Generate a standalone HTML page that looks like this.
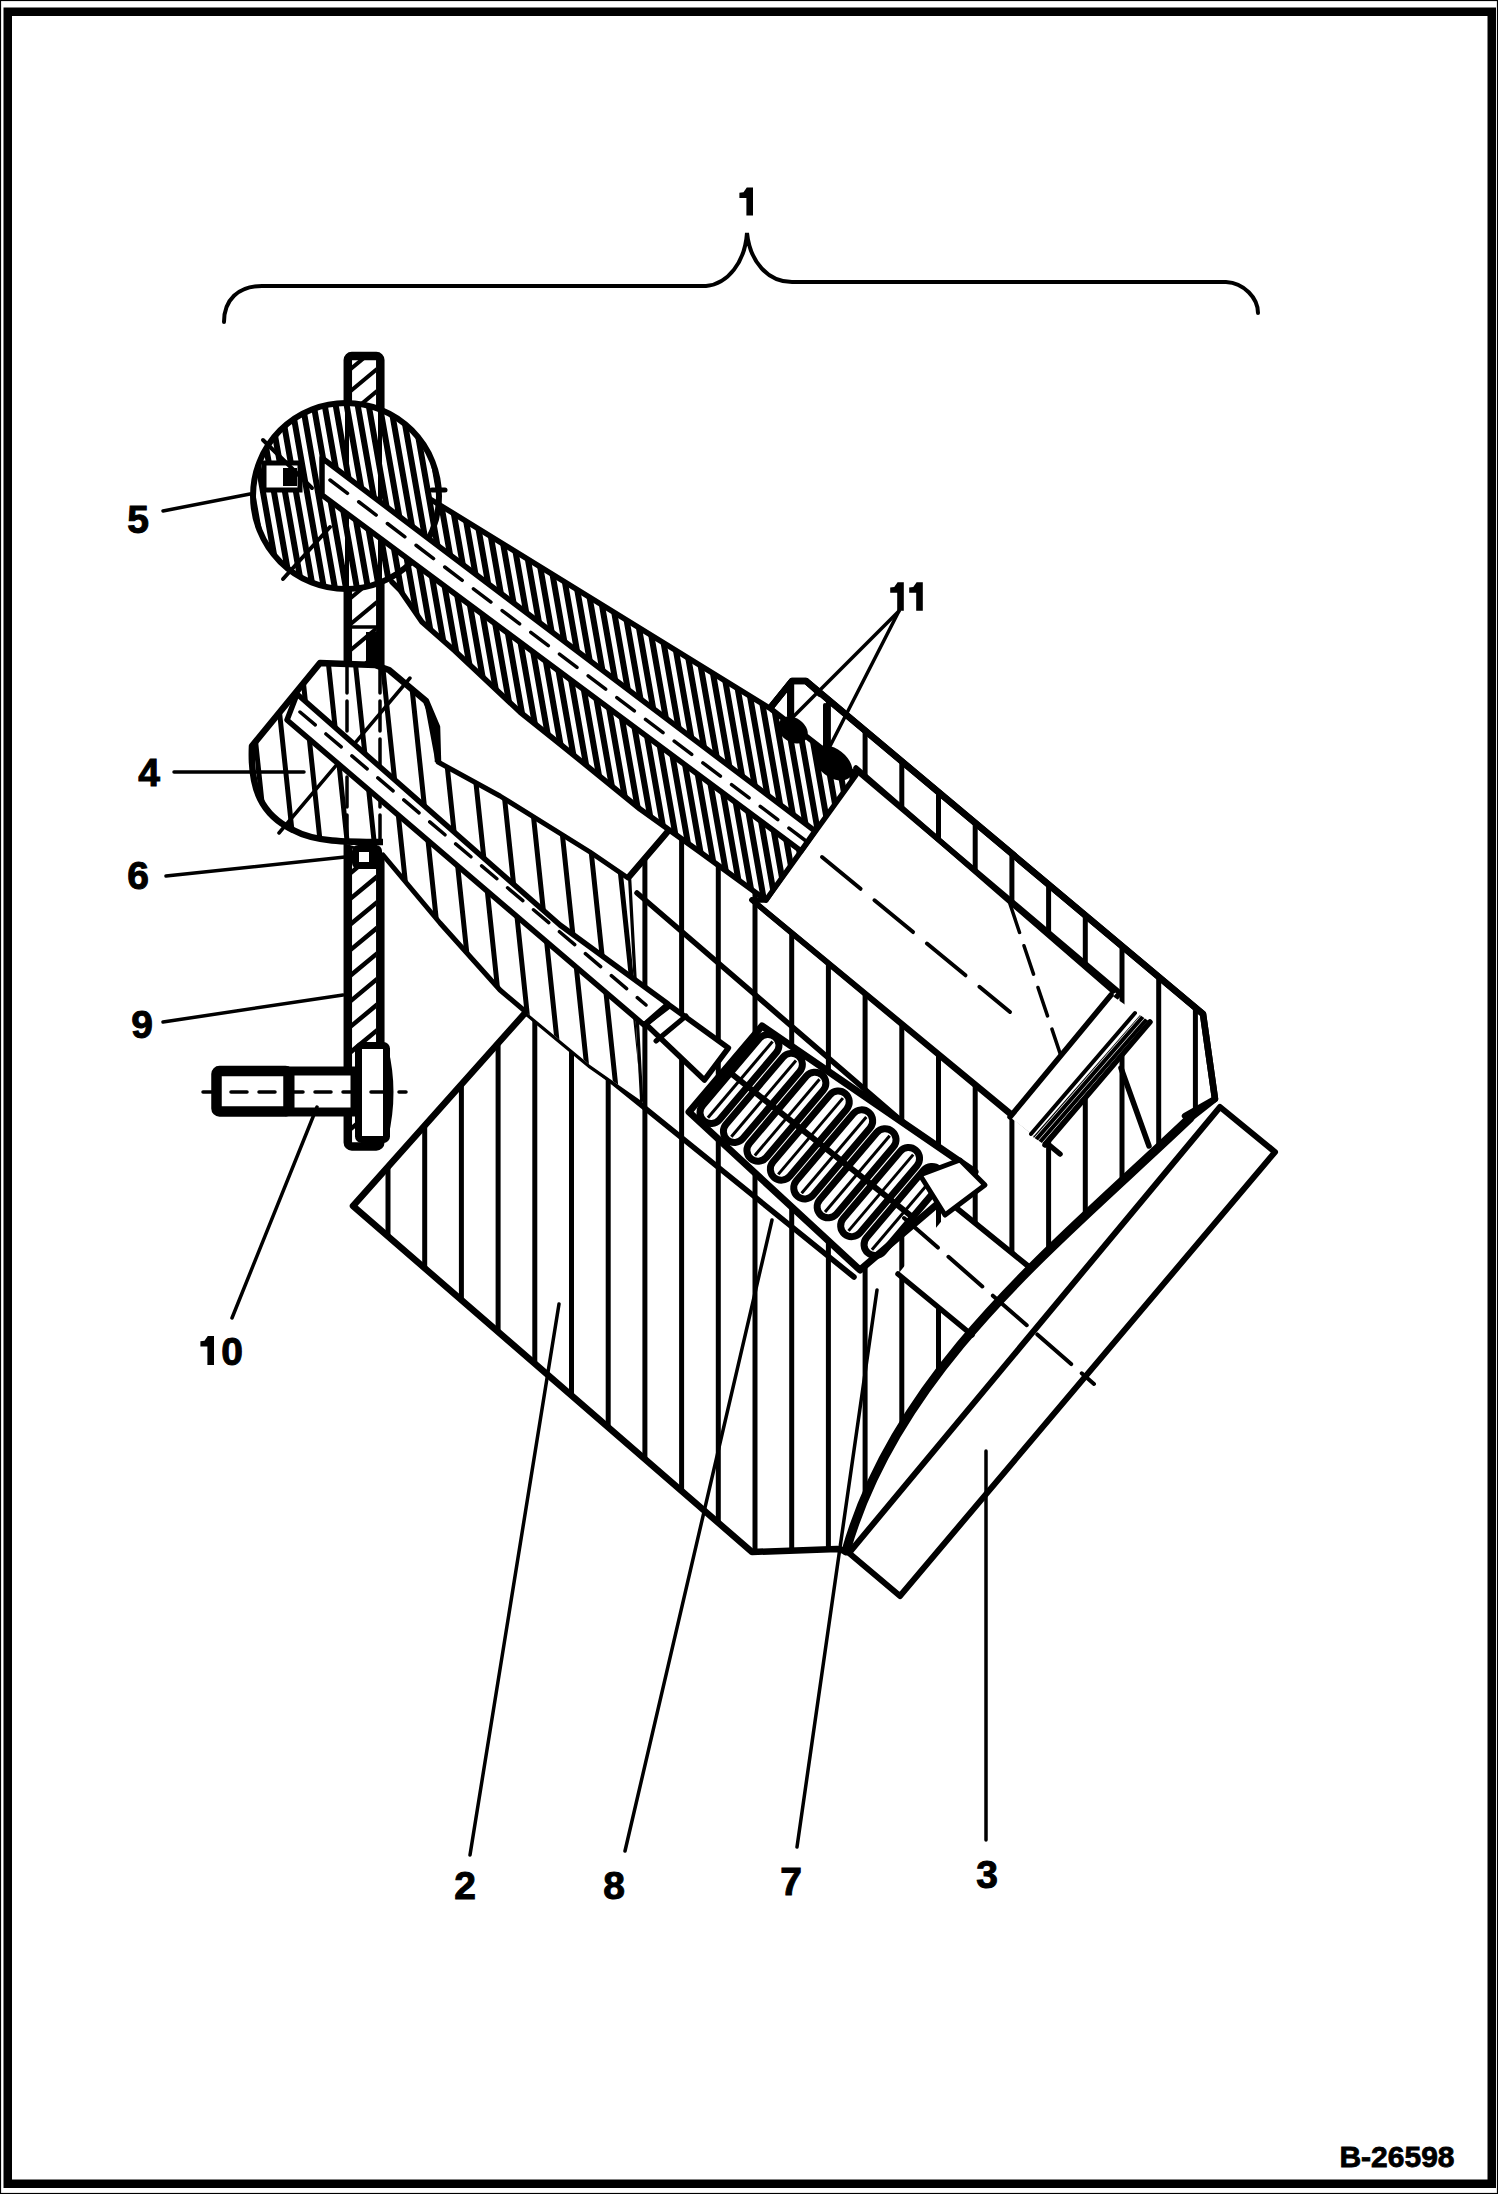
<!DOCTYPE html><html><head><meta charset="utf-8"><style>html,body{margin:0;padding:0;background:#fff}svg{display:block}</style></head><body><svg width="1498" height="2194" viewBox="0 0 1498 2194"><defs><clipPath id="c5"><circle cx="346" cy="496" r="93"/><path d="M430.0,499.0L771.0,709.0L856.0,775.0L766.0,900.0L700.0,852.0L640.0,809.0L560.0,744.0L520.0,712.0L455.0,651.0L422.0,622.0L400.0,590.0L392.0,582.0Z"/></clipPath><clipPath id="c4"><path d="M438,762 L437,727 L426,701 L389,670 L375,665 L320,663 L252,746 C250,790 262,815 293,830 C315,842 345,842 383,842 L438,800Z"/><path d="M427.0,703.0L438.0,762.0L500.0,796.0L590.0,852.0L628.0,878.0L640.0,1100.0L590.0,1065.0L526.0,1012.0L500.0,990.0L440.0,923.0L383.0,855.0L340.0,842.0Z"/></clipPath><clipPath id="cb"><path d="M628.0,878.0L664.0,836.0L771.0,707.0L792.0,681.0L806.0,681.0L1203.0,1014.0L1215.0,1099.0L1187.0,1121.0L1153.7,1152.2L1119.7,1183.6L1085.5,1215.3L1051.6,1247.6L1018.4,1280.6L986.5,1314.7L956.2,1349.9L928.0,1386.5L902.5,1424.7L880.0,1464.8L861.0,1506.8L846.0,1551.0L837.0,1549.0L752.0,1552.0L353.0,1206.0L526.0,1012.0L590.0,1065.0L640.0,1100.0Z"/></clipPath><clipPath id="cp9a"><rect x="352" y="352" width="24" height="60"/></clipPath><clipPath id="cp9b"><rect x="352" y="580" width="24" height="90"/></clipPath><clipPath id="cp9c"><rect x="352" y="835" width="24" height="310"/></clipPath></defs><rect width="1498" height="2194" fill="#fff"/><rect x="0.5" y="0.5" width="1497" height="2193" fill="none" stroke="#000" stroke-width="1.2"/><rect x="7.75" y="11.75" width="1484" height="2172" fill="none" stroke="#000" stroke-width="8.5"/><path d="M224,322 C224,300 238,286 262,286 L706,286 C728,284 745,262 747,233 C750,262 768,282 792,282 L1226,282 C1244,283 1258,298 1258,313" fill="none" stroke="#000" stroke-width="4" stroke-linecap="round"/><rect x="347.8" y="356" width="32.5" height="790.5" rx="4" fill="#fff" stroke="#000" stroke-width="8.5"/><path clip-path="url(#cp9a)" d="M340,311.8L390,270.3M340,333.8L390,292.3M340,355.8L390,314.3M340,377.8L390,336.3M340,399.8L390,358.3M340,421.8L390,380.3M340,443.8L390,402.3M340,465.8L390,424.3M340,487.8L390,446.3" stroke="#000" stroke-width="4" fill="none"/><path clip-path="url(#cp9b)" d="M340,528.8L390,487.3M340,554.8L390,513.3M340,580.8L390,539.3M340,606.8L390,565.3M340,632.8L390,591.3M340,658.8L390,617.3M340,684.8L390,643.3M340,710.8L390,669.3M340,736.8L390,695.3M340,762.8L390,721.3" stroke="#000" stroke-width="4" fill="none"/><path clip-path="url(#cp9c)" d="M340,779.4L390,737.9M340,805.0L390,763.5M340,830.6L390,789.1M340,856.2L390,814.7M340,881.8L390,840.3M340,907.4L390,865.9M340,933.0L390,891.5M340,958.6L390,917.1M340,984.2L390,942.7M340,1009.8L390,968.3M340,1035.4L390,993.9M340,1061.0L390,1019.5M340,1086.6L390,1045.1M340,1112.2L390,1070.7M340,1137.8L390,1096.3M340,1163.4L390,1121.9M340,1189.0L390,1147.5M340,1214.6L390,1173.1M340,1240.2L390,1198.7" stroke="#000" stroke-width="4.5" fill="none"/><path d="M628.0,878.0L664.0,836.0L771.0,707.0L792.0,681.0L806.0,681.0L1203.0,1014.0L1215.0,1099.0L1187.0,1121.0L1153.7,1152.2L1119.7,1183.6L1085.5,1215.3L1051.6,1247.6L1018.4,1280.6L986.5,1314.7L956.2,1349.9L928.0,1386.5L902.5,1424.7L880.0,1464.8L861.0,1506.8L846.0,1551.0L837.0,1549.0L752.0,1552.0L353.0,1206.0L526.0,1012.0L590.0,1065.0L640.0,1100.0Z" fill="#fff" stroke="none" stroke-linejoin="round" /><path clip-path="url(#cb)" d="M277.9,640L277.9,1560M314.6,640L314.6,1560M351.3,640L351.3,1560M388.0,640L388.0,1560M424.7,640L424.7,1560M461.4,640L461.4,1560M498.1,640L498.1,1560M534.8,640L534.8,1560M571.5,640L571.5,1560M608.2,640L608.2,1560M644.9,640L644.9,1560M681.6,640L681.6,1560M718.3,640L718.3,1560M755.0,640L755.0,1560M791.7,640L791.7,1560M828.4,640L828.4,1560M865.1,640L865.1,1560M901.8,640L901.8,1560M938.5,640L938.5,1560M975.2,640L975.2,1560M1011.9,640L1011.9,1560M1048.6,640L1048.6,1560M1085.3,640L1085.3,1560M1122.0,640L1122.0,1560M1158.7,640L1158.7,1560M1195.4,640L1195.4,1560M1232.1,640L1232.1,1560M1268.8,640L1268.8,1560" stroke="#000" stroke-width="5" fill="none"/><path d="M856.0,770.0L1120.0,993.0L1012.0,1116.0L752.0,900.0L766.0,900.0Z" fill="#fff" stroke="#000" stroke-width="5.5" stroke-linejoin="round" /><path d="M822,857L1010,1012" stroke="#000" stroke-width="4" stroke-dasharray="50 18" stroke-linecap="round" fill="none"/><path d="M1010.0,904.0L1069.0,1080.0" fill="none" stroke="#000" stroke-width="3.5" stroke-linejoin="round" stroke-linecap="round" stroke-dasharray="30 14"/><path d="M771.0,707.0L792.0,681.0L806.0,681.0L1203.0,1014.0L1215.0,1099.0L1185.0,1116.0" fill="none" stroke="#000" stroke-width="6.5" stroke-linejoin="round" stroke-linecap="round" /><path d="M856.0,768.0L1113.0,991.0" fill="none" stroke="#000" stroke-width="5.5" stroke-linejoin="round" stroke-linecap="round" /><path d="M752.0,900.0L1060.0,1154.0" fill="none" stroke="#000" stroke-width="5.5" stroke-linejoin="round" stroke-linecap="round" /><path d="M637.0,893.0L970.0,1180.0" fill="none" stroke="#000" stroke-width="5.5" stroke-linejoin="round" stroke-linecap="round" /><path d="M526.0,1012.0L854.0,1277.0" fill="none" stroke="#000" stroke-width="5.5" stroke-linejoin="round" stroke-linecap="round" /><path d="M1111.0,995.0L1150.0,1022.0L1045.0,1145.0L1010.0,1117.0Z" fill="#fff" stroke="none" stroke-linejoin="round" /><defs><clipPath id="cring"><path d="M1140.0,1015.0L1150.0,1022.0L1045.0,1145.0L1033.0,1137.0Z"/></clipPath></defs><path clip-path="url(#cring)" d="M1020,990.0L1160,829.0M1020,997.0L1160,836.0M1020,1004.0L1160,843.0M1020,1011.0L1160,850.0M1020,1018.0L1160,857.0M1020,1025.0L1160,864.0M1020,1032.0L1160,871.0M1020,1039.0L1160,878.0M1020,1046.0L1160,885.0M1020,1053.0L1160,892.0M1020,1060.0L1160,899.0M1020,1067.0L1160,906.0M1020,1074.0L1160,913.0M1020,1081.0L1160,920.0M1020,1088.0L1160,927.0M1020,1095.0L1160,934.0M1020,1102.0L1160,941.0M1020,1109.0L1160,948.0M1020,1116.0L1160,955.0M1020,1123.0L1160,962.0M1020,1130.0L1160,969.0M1020,1137.0L1160,976.0M1020,1144.0L1160,983.0M1020,1151.0L1160,990.0M1020,1158.0L1160,997.0M1020,1165.0L1160,1004.0M1020,1172.0L1160,1011.0M1020,1179.0L1160,1018.0M1020,1186.0L1160,1025.0M1020,1193.0L1160,1032.0M1020,1200.0L1160,1039.0M1020,1207.0L1160,1046.0M1020,1214.0L1160,1053.0M1020,1221.0L1160,1060.0M1020,1228.0L1160,1067.0M1020,1235.0L1160,1074.0M1020,1242.0L1160,1081.0M1020,1249.0L1160,1088.0M1020,1256.0L1160,1095.0M1020,1263.0L1160,1102.0M1020,1270.0L1160,1109.0M1020,1277.0L1160,1116.0M1020,1284.0L1160,1123.0M1020,1291.0L1160,1130.0M1020,1298.0L1160,1137.0M1020,1305.0L1160,1144.0M1020,1312.0L1160,1151.0M1020,1319.0L1160,1158.0" stroke="#000" stroke-width="4" fill="none"/><path d="M1111.0,995.0L1010.0,1117.0" fill="none" stroke="#000" stroke-width="5.5" stroke-linejoin="round" stroke-linecap="round" /><path d="M1135.0,1013.0L1031.0,1134.0" fill="none" stroke="#000" stroke-width="4" stroke-linejoin="round" stroke-linecap="round" /><path d="M1150.0,1022.0L1045.0,1145.0" fill="none" stroke="#000" stroke-width="5.5" stroke-linejoin="round" stroke-linecap="round" /><path d="M1121.0,1068.0L1149.0,1146.0" fill="none" stroke="#000" stroke-width="5.5" stroke-linejoin="round" stroke-linecap="round" /><path d="M1078.0,963.0L1064.0,1040.0L1066.0,1100.0" fill="none" stroke="#000" stroke-width="0" stroke-linejoin="round" stroke-linecap="round" /><path d="M954.0,1206.0L1028.0,1266.0L972.0,1335.0L898.0,1274.0Z" fill="#fff" stroke="none" stroke-linejoin="round" /><path d="M954.0,1206.0L1028.0,1266.0" fill="none" stroke="#000" stroke-width="5.5" stroke-linejoin="round" stroke-linecap="round" /><path d="M898.0,1274.0L972.0,1335.0" fill="none" stroke="#000" stroke-width="5.5" stroke-linejoin="round" stroke-linecap="round" /><path d="M628.0,878.0L664.0,836.0L771.0,707.0L792.0,681.0L806.0,681.0L1203.0,1014.0L1215.0,1099.0L1187.0,1121.0L1153.7,1152.2L1119.7,1183.6L1085.5,1215.3L1051.6,1247.6L1018.4,1280.6L986.5,1314.7L956.2,1349.9L928.0,1386.5L902.5,1424.7L880.0,1464.8L861.0,1506.8L846.0,1551.0L837.0,1549.0L752.0,1552.0L353.0,1206.0L526.0,1012.0L590.0,1065.0L640.0,1100.0Z" fill="none" stroke="#000" stroke-width="6.5" stroke-linejoin="round" /><path d="M438,762 L437,727 L426,701 L389,670 L375,665 L320,663 L252,746 C250,790 262,815 293,830 C315,842 345,842 383,842 L438,800Z" fill="#fff"/><path d="M427.0,703.0L438.0,762.0L500.0,796.0L590.0,852.0L628.0,878.0L640.0,1100.0L590.0,1065.0L526.0,1012.0L500.0,990.0L440.0,923.0L383.0,855.0L340.0,842.0Z" fill="#fff" stroke="none" stroke-linejoin="round" /><path clip-path="url(#c4)" d="M138.0,650L186.3,1110M165.0,650L213.3,1110M192.0,650L240.3,1110M219.0,650L267.3,1110M246.0,650L294.3,1110M273.0,650L321.3,1110M300.0,650L348.3,1110M327.0,650L375.3,1110M354.0,650L402.3,1110M381.0,650L429.3,1110M408.0,650L456.3,1110M435.0,650L483.3,1110M462.0,650L510.3,1110M489.0,650L537.3,1110M516.0,650L564.3,1110M543.0,650L591.3,1110M570.0,650L618.3,1110M597.0,650L645.3,1110M624.0,650L672.3,1110M651.0,650L699.3,1110M678.0,650L726.3,1110M705.0,650L753.3,1110M732.0,650L780.3,1110M759.0,650L807.3,1110M786.0,650L834.3,1110" stroke="#000" stroke-width="5" fill="none"/><path d="M438,762 L437,727 L426,701 L389,670 L375,665 L320,663 L252,746 C250,790 262,815 293,830 C315,842 345,842 383,842" fill="none" stroke="#000" stroke-width="6.5" stroke-linejoin="round"/><path d="M279.0,833.0L410.0,678.0" fill="none" stroke="#000" stroke-width="3.5" stroke-linejoin="round" stroke-linecap="round" /><path d="M340.0,662.0L387.0,670.0L427.0,703.0Z" fill="none" stroke="none" stroke-linejoin="round" /><path d="M427.0,703.0L438.0,762.0L500.0,796.0L590.0,852.0L628.0,878.0L664.0,836.0" fill="none" stroke="#000" stroke-width="5" stroke-linejoin="round" stroke-linecap="round" /><path d="M383.0,855.0L440.0,923.0L500.0,990.0L526.0,1012.0" fill="none" stroke="#000" stroke-width="5" stroke-linejoin="round" stroke-linecap="round" /><path d="M347.0,663.0L347.0,842.0" fill="none" stroke="#000" stroke-width="3.5" stroke-linejoin="round" stroke-linecap="round" stroke-dasharray="30 8"/><path d="M380.0,663.0L380.0,842.0" fill="none" stroke="#000" stroke-width="3.5" stroke-linejoin="round" stroke-linecap="round" stroke-dasharray="30 8"/><path d="M297.0,694.0L560.0,925.0L668.0,1004.0L644.0,1025.0L287.0,720.0Z" fill="#fff" stroke="#000" stroke-width="5.5" stroke-linejoin="round" /><path d="M300,712L646,1005" stroke="#000" stroke-width="3.5" stroke-dasharray="20 14" stroke-linecap="round" fill="none"/><path d="M645.6,1024.0L669.7,1005.5L728.4,1048.0L704.4,1080.0Z" fill="#fff" stroke="#000" stroke-width="5.5" stroke-linejoin="round" /><path d="M686.0,1016.0L656.0,1041.0" fill="none" stroke="#000" stroke-width="5" stroke-linejoin="round" stroke-linecap="round" /><path d="M662.0,1012.0L648.0,1024.0" fill="none" stroke="#000" stroke-width="3" stroke-linejoin="round" stroke-linecap="round" /><path d="M762.0,1026.0L975.0,1172.0L860.0,1270.0L689.0,1112.0Z" fill="#fff" stroke="#000" stroke-width="7" stroke-linejoin="round" /><rect x="-55" y="-11" width="110" height="22" rx="11" transform="translate(739.5,1079.0) rotate(130.3)" fill="none" stroke="#000" stroke-width="7"/><path d="M-50,-1L50,-1" transform="translate(739.5,1079.0) rotate(130.3)" stroke="#000" stroke-width="3"/><rect x="-55" y="-11" width="110" height="22" rx="11" transform="translate(762.9,1097.9) rotate(130.3)" fill="none" stroke="#000" stroke-width="7"/><path d="M-50,-1L50,-1" transform="translate(762.9,1097.9) rotate(130.3)" stroke="#000" stroke-width="3"/><rect x="-55" y="-11" width="110" height="22" rx="11" transform="translate(786.4,1116.7) rotate(130.3)" fill="none" stroke="#000" stroke-width="7"/><path d="M-50,-1L50,-1" transform="translate(786.4,1116.7) rotate(130.3)" stroke="#000" stroke-width="3"/><rect x="-55" y="-11" width="110" height="22" rx="11" transform="translate(809.8,1135.6) rotate(130.3)" fill="none" stroke="#000" stroke-width="7"/><path d="M-50,-1L50,-1" transform="translate(809.8,1135.6) rotate(130.3)" stroke="#000" stroke-width="3"/><rect x="-55" y="-11" width="110" height="22" rx="11" transform="translate(833.2,1154.4) rotate(130.3)" fill="none" stroke="#000" stroke-width="7"/><path d="M-50,-1L50,-1" transform="translate(833.2,1154.4) rotate(130.3)" stroke="#000" stroke-width="3"/><rect x="-55" y="-11" width="110" height="22" rx="11" transform="translate(856.6,1173.3) rotate(130.3)" fill="none" stroke="#000" stroke-width="7"/><path d="M-50,-1L50,-1" transform="translate(856.6,1173.3) rotate(130.3)" stroke="#000" stroke-width="3"/><rect x="-55" y="-11" width="110" height="22" rx="11" transform="translate(880.1,1192.1) rotate(130.3)" fill="none" stroke="#000" stroke-width="7"/><path d="M-50,-1L50,-1" transform="translate(880.1,1192.1) rotate(130.3)" stroke="#000" stroke-width="3"/><rect x="-55" y="-11" width="110" height="22" rx="11" transform="translate(903.5,1211.0) rotate(130.3)" fill="none" stroke="#000" stroke-width="7"/><path d="M-50,-1L50,-1" transform="translate(903.5,1211.0) rotate(130.3)" stroke="#000" stroke-width="3"/><path d="M725.5,1069.0L917.5,1221.0" fill="none" stroke="#000" stroke-width="6" stroke-linejoin="round" stroke-linecap="round" /><path d="M920.0,1175.0L960.0,1160.0L985.0,1185.0L945.0,1215.0Z" fill="#fff" stroke="#000" stroke-width="5" stroke-linejoin="round" /><circle cx="346" cy="496" r="93" fill="#fff"/><path d="M430.0,499.0L771.0,709.0L856.0,775.0L766.0,900.0L700.0,852.0L640.0,809.0L560.0,744.0L520.0,712.0L455.0,651.0L422.0,622.0L400.0,590.0L392.0,582.0Z" fill="#fff" stroke="none" stroke-linejoin="round" /><path clip-path="url(#c5)" d="M135.0,390L226.7,910M146.0,390L237.7,910M157.0,390L248.7,910M168.0,390L259.7,910M179.0,390L270.7,910M190.0,390L281.7,910M201.0,390L292.7,910M212.0,390L303.7,910M223.0,390L314.7,910M234.0,390L325.7,910M245.0,390L336.7,910M256.0,390L347.7,910M267.0,390L358.7,910M278.0,390L369.7,910M289.0,390L380.7,910M300.0,390L391.7,910M311.0,390L402.7,910M322.0,390L413.7,910M333.0,390L424.7,910M344.0,390L435.7,910M355.0,390L446.7,910M366.0,390L457.7,910M377.0,390L468.7,910M388.0,390L479.7,910M399.0,390L490.7,910M410.0,390L501.7,910M421.0,390L512.7,910M432.0,390L523.7,910M443.0,390L534.7,910M454.0,390L545.7,910M465.0,390L556.7,910M476.0,390L567.7,910M487.0,390L578.7,910M498.0,390L589.7,910M509.0,390L600.7,910M520.0,390L611.7,910M531.0,390L622.7,910M542.0,390L633.7,910M553.0,390L644.7,910M564.0,390L655.7,910M575.0,390L666.7,910M586.0,390L677.7,910M597.0,390L688.7,910M608.0,390L699.7,910M619.0,390L710.7,910M630.0,390L721.7,910M641.0,390L732.7,910M652.0,390L743.7,910M663.0,390L754.7,910M674.0,390L765.7,910M685.0,390L776.7,910M696.0,390L787.7,910M707.0,390L798.7,910M718.0,390L809.7,910M729.0,390L820.7,910M740.0,390L831.7,910M751.0,390L842.7,910M762.0,390L853.7,910M773.0,390L864.7,910M784.0,390L875.7,910M795.0,390L886.7,910M806.0,390L897.7,910M817.0,390L908.7,910M828.0,390L919.7,910M839.0,390L930.7,910M850.0,390L941.7,910M861.0,390L952.7,910M872.0,390L963.7,910M883.0,390L974.7,910M894.0,390L985.7,910M905.0,390L996.7,910M916.0,390L1007.7,910M927.0,390L1018.7,910M938.0,390L1029.7,910M949.0,390L1040.7,910M960.0,390L1051.7,910M971.0,390L1062.7,910M982.0,390L1073.7,910M993.0,390L1084.7,910" stroke="#000" stroke-width="6" fill="none"/><circle cx="346" cy="496" r="93" fill="none" stroke="#000" stroke-width="6"/><path d="M430.0,499.0L771.0,709.0L856.0,775.0L766.0,900.0L700.0,852.0L640.0,809.0L560.0,744.0L520.0,712.0L455.0,651.0L422.0,622.0L400.0,590.0L392.0,582.0" fill="none" stroke="#000" stroke-width="5.5" stroke-linejoin="round" stroke-linecap="round" /><path d="M347.0,402.0L347.0,590.0" fill="none" stroke="#000" stroke-width="4" stroke-linejoin="round" stroke-linecap="round" /><path d="M380.0,402.0L380.0,590.0" fill="none" stroke="#000" stroke-width="4" stroke-linejoin="round" stroke-linecap="round" /><path d="M322.0,458.0L400.0,517.0L815.0,831.0L801.0,851.0L400.0,553.0L322.0,495.0Z" fill="#fff" stroke="#000" stroke-width="5.5" stroke-linejoin="round" /><path d="M330,480L806,841" stroke="#000" stroke-width="3.5" stroke-dasharray="22 14" stroke-linecap="round" fill="none"/><path d="M432.0,490.0L445.0,490.0" fill="none" stroke="#000" stroke-width="5" stroke-linejoin="round" stroke-linecap="round" /><ellipse cx="793" cy="730" rx="16" ry="12" transform="rotate(35 793 730)" fill="#000"/><ellipse cx="833" cy="763" rx="22" ry="14" transform="rotate(38 833 763)" fill="#000"/><path d="M771.0,707.0L792.0,681.0L806.0,681.0L820.0,694.0" fill="none" stroke="#000" stroke-width="6" stroke-linejoin="round" stroke-linecap="round" /><path d="M789.0,690.0L789.0,716.0" fill="none" stroke="#000" stroke-width="4" stroke-linejoin="round" stroke-linecap="round" /><path d="M825.0,705.0L825.0,746.0" fill="none" stroke="#000" stroke-width="4" stroke-linejoin="round" stroke-linecap="round" /><rect x="366" y="632" width="17" height="34" fill="#000"/><path d="M347.0,627.0L380.0,627.0" fill="none" stroke="#000" stroke-width="3.5" stroke-linejoin="round" stroke-linecap="round" /><rect x="352" y="845" width="30" height="24" rx="6" fill="#000"/><rect x="359" y="852" width="10" height="10" fill="#fff"/><rect x="264" y="463" width="36" height="27" fill="#fff" stroke="#000" stroke-width="5"/><rect x="283" y="468" width="14" height="18" fill="#000"/><path d="M270.0,438.0L300.0,449.0" fill="none" stroke="#000" stroke-width="0" stroke-linejoin="round" stroke-linecap="round" /><path d="M263.0,440.0L312.0,488.0" fill="none" stroke="#000" stroke-width="4" stroke-linejoin="round" stroke-linecap="round" /><path d="M283.0,579.0L330.0,527.0" fill="none" stroke="#000" stroke-width="4" stroke-linejoin="round" stroke-linecap="round" /><path d="M396.0,423.0L420.0,442.0" fill="none" stroke="#000" stroke-width="0" stroke-linejoin="round" stroke-linecap="round" /><rect x="216.5" y="1071" width="72" height="40.5" rx="3" fill="#fff" stroke="#000" stroke-width="10.5"/><rect x="290" y="1071" width="65" height="41" fill="#fff" stroke="#000" stroke-width="9"/><rect x="358.5" y="1045.5" width="28" height="94" rx="3" fill="#fff" stroke="#000" stroke-width="7"/><path d="M386,1048 Q397,1092 386,1138" fill="none" stroke="#000" stroke-width="4"/><path d="M203,1092L406,1092" stroke="#000" stroke-width="3.5" stroke-dasharray="16 12" stroke-linecap="round" fill="none"/><path d="M1220.0,1107.0L1275.0,1152.0L900.0,1596.0L849.0,1553.0Z" fill="#fff" stroke="#000" stroke-width="6" stroke-linejoin="round" /><path d="M1100.0,1251.0L975.0,1400.0" fill="none" stroke="#000" stroke-width="0" stroke-linejoin="round" stroke-linecap="round" /><path d="M1190,1118 C1055.6,1245.8 897.4,1369.4 846,1551" fill="none" stroke="#000" stroke-width="9" stroke-linecap="round"/><path d="M904,1218L1094,1384" stroke="#000" stroke-width="4" stroke-dasharray="45 14" stroke-linecap="round" fill="none"/><text x="138" y="533" font-family="&quot;Liberation Sans&quot;, sans-serif" font-weight="bold" font-size="39" text-anchor="middle" stroke="#000" stroke-width="1">5</text><text x="149" y="786" font-family="&quot;Liberation Sans&quot;, sans-serif" font-weight="bold" font-size="39" text-anchor="middle" stroke="#000" stroke-width="1">4</text><text x="138" y="889" font-family="&quot;Liberation Sans&quot;, sans-serif" font-weight="bold" font-size="39" text-anchor="middle" stroke="#000" stroke-width="1">6</text><text x="142" y="1038" font-family="&quot;Liberation Sans&quot;, sans-serif" font-weight="bold" font-size="39" text-anchor="middle" stroke="#000" stroke-width="1">9</text><text x="232" y="1365" font-family="&quot;Liberation Sans&quot;, sans-serif" font-weight="bold" font-size="39" text-anchor="middle" stroke="#000" stroke-width="1">0</text><text x="465" y="1899" font-family="&quot;Liberation Sans&quot;, sans-serif" font-weight="bold" font-size="39" text-anchor="middle" stroke="#000" stroke-width="1">2</text><text x="614" y="1899" font-family="&quot;Liberation Sans&quot;, sans-serif" font-weight="bold" font-size="39" text-anchor="middle" stroke="#000" stroke-width="1">8</text><text x="791" y="1895" font-family="&quot;Liberation Sans&quot;, sans-serif" font-weight="bold" font-size="39" text-anchor="middle" stroke="#000" stroke-width="1">7</text><text x="987" y="1888" font-family="&quot;Liberation Sans&quot;, sans-serif" font-weight="bold" font-size="39" text-anchor="middle" stroke="#000" stroke-width="1">3</text><path d="M753.0,187.5L753.0,215.5L746.4,215.5L746.4,198.0L739.4,198.0L739.4,192.7L743.5,192.3L746.8,187.5Z" fill="#000"/><path d="M903.8,582.3L903.8,610.8L897.2,610.8L897.2,592.8L890.2,592.8L890.2,587.5L894.3,587.1L897.6,582.3Z" fill="#000"/><path d="M922.8,582.3L922.8,610.8L916.2,610.8L916.2,592.8L909.2,592.8L909.2,587.5L913.3,587.1L916.6,582.3Z" fill="#000"/><path d="M214.0,1336.0L214.0,1365.0L207.4,1365.0L207.4,1346.5L200.4,1346.5L200.4,1341.2L204.5,1340.8L207.8,1336.0Z" fill="#000"/><text x="1397" y="2167" font-family="&quot;Liberation Sans&quot;, sans-serif" font-weight="bold" font-size="30" text-anchor="middle" stroke="#000" stroke-width="0.8">B-26598</text><path d="M163,511L250,494" stroke="#000" stroke-width="3.5" stroke-linecap="round"/><path d="M174,772L304,772" stroke="#000" stroke-width="3.5" stroke-linecap="round"/><path d="M166,876L345,857" stroke="#000" stroke-width="3.5" stroke-linecap="round"/><path d="M163,1022L343,995" stroke="#000" stroke-width="3.5" stroke-linecap="round"/><path d="M232,1318L317,1107" stroke="#000" stroke-width="3.5" stroke-linecap="round"/><path d="M470,1855L559,1304" stroke="#000" stroke-width="3.5" stroke-linecap="round"/><path d="M625,1851L772,1220" stroke="#000" stroke-width="3.5" stroke-linecap="round"/><path d="M797,1847L877,1290" stroke="#000" stroke-width="3.5" stroke-linecap="round"/><path d="M986,1840L986,1451" stroke="#000" stroke-width="3.5" stroke-linecap="round"/><path d="M899,611L790,720" stroke="#000" stroke-width="3.5" stroke-linecap="round"/><path d="M899,611L827,752" stroke="#000" stroke-width="3.5" stroke-linecap="round"/></svg></body></html>
